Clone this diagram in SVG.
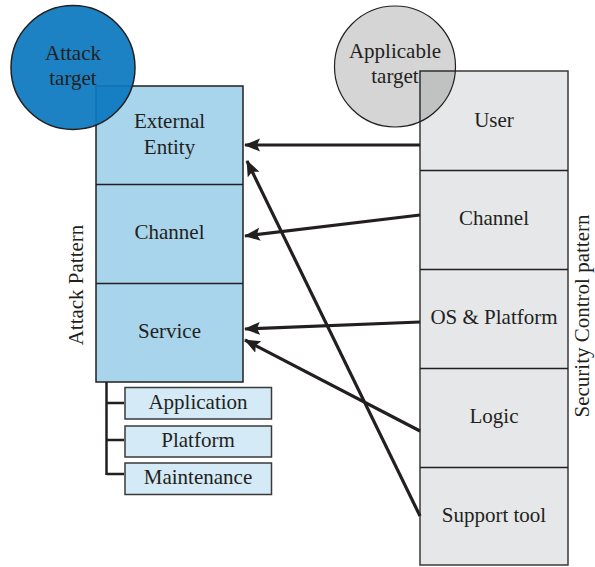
<svg xmlns="http://www.w3.org/2000/svg" width="595" height="567" viewBox="0 0 595 567">
<style>
text{font-family:"Liberation Serif","DejaVu Serif",serif;font-size:21px;fill:#231f20;text-anchor:middle}
.ap{fill:#a9d5ec;stroke:#231f20;stroke-width:1.5}
.sub{fill:#d4eaf6;stroke:#3a3a3a;stroke-width:1.5}
.sc{fill:#e6e7e8;stroke:#3a3a3a;stroke-width:1.5}
.conn{stroke:#231f20;stroke-width:3.2;fill:none;marker-end:url(#ah)}
</style>
<defs>
<marker id="ah" markerUnits="userSpaceOnUse" markerWidth="18" markerHeight="14" refX="15" refY="6.5" orient="auto">
<path d="M0,0 L16,6.5 L0,13 L3,6.5 z" fill="#231f20"/>
</marker>
</defs>
<rect x="0" y="0" width="595" height="567" fill="#fff"/>

<g id="attack-pattern">
<rect class="ap" x="96" y="86" width="147" height="296"/>
<line x1="96" y1="184.5" x2="243" y2="184.5" stroke="#231f20" stroke-width="1.5"/>
<line x1="96" y1="283.5" x2="243" y2="283.5" stroke="#231f20" stroke-width="1.5"/>
<text transform="translate(83,285) rotate(-90)">Attack Pattern</text>
</g>
<g id="ap-external"><text x="169.5" y="128">External</text><text x="169.5" y="154">Entity</text></g>
<g id="ap-channel"><text x="169.5" y="239">Channel</text></g>
<g id="ap-service"><text x="169.5" y="338">Service</text></g>

<g id="attack-target">
<circle cx="73" cy="67.5" r="62" fill="#0b78c0" fill-opacity="0.93" stroke="#231f20" stroke-width="1.5"/>
<text x="73" y="60">Attack</text>
<text x="73" y="85">target</text>
</g>

<g id="service-tree">
<path d="M106.5,382 V475 M106.5,403 H124 M106.5,440 H124 M106.5,474 H124" stroke="#231f20" stroke-width="2.5" fill="none"/>
</g>
<g id="sub-application"><rect class="sub" x="125" y="387.5" width="146.5" height="31.5"/><text x="198" y="409">Application</text></g>
<g id="sub-platform"><rect class="sub" x="125" y="426" width="146.5" height="31"/><text x="198" y="446.5">Platform</text></g>
<g id="sub-maintenance"><rect class="sub" x="125" y="463" width="146.5" height="31.5"/><text x="198" y="484">Maintenance</text></g>

<g id="security-control">
<rect class="sc" x="420" y="71" width="148" height="494" stroke="#666"/>
<line x1="420" y1="170.5" x2="568" y2="170.5" stroke="#231f20" stroke-width="1.5"/>
<line x1="420" y1="269.5" x2="568" y2="269.5" stroke="#231f20" stroke-width="1.5"/>
<line x1="420" y1="368.5" x2="568" y2="368.5" stroke="#231f20" stroke-width="1.5"/>
<line x1="420" y1="467.5" x2="568" y2="467.5" stroke="#231f20" stroke-width="1.5"/>
<text transform="translate(589,316) rotate(-90)">Security Control pattern</text>
</g>
<g id="sc-user"><text x="494" y="127">User</text></g>
<g id="sc-channel"><text x="494" y="225">Channel</text></g>
<g id="sc-os"><text x="494" y="323.5">OS &amp; Platform</text></g>
<g id="sc-logic"><text x="494" y="423">Logic</text></g>
<g id="sc-support"><text x="494" y="522">Support tool</text></g>

<g id="applicable-target">
<circle cx="395" cy="66.5" r="60.5" fill="#000" fill-opacity="0.165" stroke="#231f20" stroke-width="1.2"/>
<text x="395" y="58">Applicable</text>
<text x="395" y="83">target</text>
</g>

<g id="connectors">
<line class="conn" x1="420" y1="145" x2="245" y2="145"/>
<line class="conn" x1="420" y1="215" x2="245" y2="236"/>
<line class="conn" x1="420" y1="322" x2="245" y2="329"/>
<line class="conn" x1="420" y1="431" x2="245" y2="340"/>
<line class="conn" x1="420" y1="516" x2="247" y2="161"/>
</g>
</svg>
